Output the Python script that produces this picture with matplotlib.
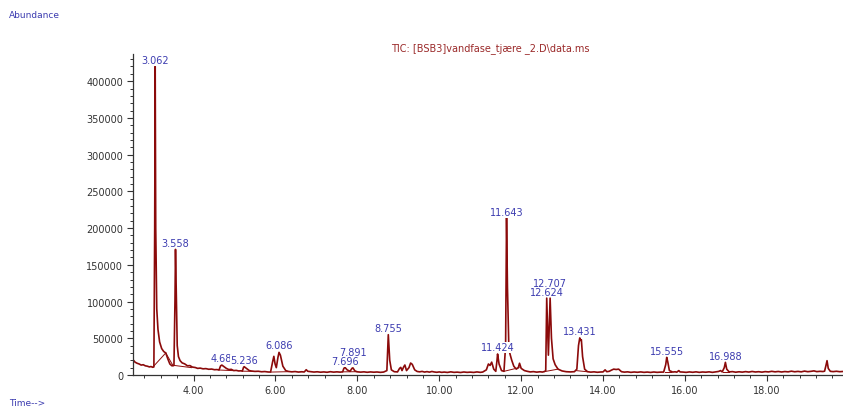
import matplotlib
matplotlib.use("Agg")
import matplotlib.pyplot as plt
from matplotlib.ticker import MultipleLocator, FormatStrFormatter

# ---------------- DATA ----------------
# retention time (min) and abundance of the TIC trace
# (one line of rt matches the same line of abundance)
rt = [2.52, 2.57, 2.62, 2.67, 2.72, 2.77, 2.82, 2.87, 2.92, 2.96, 3.00, 3.03,
      3.05, 3.062, 3.075, 3.10, 3.13, 3.17, 3.22, 3.27, 3.32, 3.37, 3.42, 3.47,
      3.52, 3.545, 3.558, 3.575, 3.60, 3.63, 3.67, 3.72, 3.78, 3.85, 3.91, 3.97,
      4.04, 4.10, 4.16, 4.23, 4.30, 4.37, 4.44, 4.51, 4.57, 4.62, 4.66, 4.69,
      4.74, 4.80, 4.86, 4.92, 4.98, 5.04, 5.10, 5.16, 5.19, 5.22, 5.236, 5.30,
      5.36, 5.42, 5.50, 5.58, 5.66, 5.74, 5.82, 5.88, 5.93, 5.96, 5.99, 6.02,
      6.06, 6.086, 6.12, 6.18, 6.25, 6.32, 6.40, 6.48, 6.56, 6.64, 6.70, 6.73,
      6.75, 6.79, 6.86, 6.94, 7.02, 7.10, 7.18, 7.26, 7.34, 7.42, 7.50, 7.58,
      7.64, 7.67, 7.696, 7.75, 7.82, 7.87, 7.891, 7.94, 8.00, 8.08, 8.16, 8.24,
      8.32, 8.40, 8.48, 8.56, 8.64, 8.72, 8.755, 8.79, 8.83, 8.90, 8.98, 9.03,
      9.06, 9.09, 9.13, 9.16, 9.20, 9.26, 9.30, 9.34, 9.40, 9.46, 9.52, 9.58,
      9.64, 9.70, 9.76, 9.82, 9.88, 9.94, 10.00, 10.06, 10.12, 10.20, 10.28, 10.36,
      10.44, 10.52, 10.60, 10.68, 10.76, 10.84, 10.92, 11.00, 11.06, 11.15, 11.20, 11.24,
      11.28, 11.33, 11.38, 11.41, 11.424, 11.46, 11.52, 11.58, 11.62, 11.643, 11.665, 11.70,
      11.73, 11.77, 11.82, 11.88, 11.93, 11.96, 12.00, 12.08, 12.15, 12.22, 12.30, 12.38,
      12.46, 12.52, 12.57, 12.60, 12.624, 12.665, 12.707, 12.74, 12.78, 12.83, 12.90, 13.00,
      13.10, 13.20, 13.30, 13.36, 13.40, 13.431, 13.45, 13.47, 13.50, 13.55, 13.62, 13.70,
      13.78, 13.86, 13.94, 14.00, 14.05, 14.09, 14.15, 14.20, 14.26, 14.32, 14.38, 14.45,
      14.52, 14.60, 14.68, 14.76, 14.84, 14.92, 15.00, 15.08, 15.16, 15.24, 15.32, 15.40,
      15.48, 15.53, 15.555, 15.58, 15.62, 15.70, 15.76, 15.80, 15.85, 15.88, 15.95, 16.03,
      16.11, 16.19, 16.27, 16.35, 16.43, 16.51, 16.59, 16.67, 16.75, 16.82, 16.87, 16.91,
      16.96, 16.988, 17.02, 17.08, 17.16, 17.24, 17.32, 17.40, 17.48, 17.56, 17.64, 17.72,
      17.80, 17.88, 17.96, 18.04, 18.12, 18.20, 18.28, 18.36, 18.44, 18.52, 18.60, 18.68,
      18.76, 18.84, 18.92, 19.00, 19.08, 19.15, 19.22, 19.30, 19.37, 19.41, 19.44, 19.47,
      19.50, 19.55, 19.62, 19.70, 19.78, 19.86]
abundance = [20800, 17500, 16000, 15000, 13500, 14000, 12500, 12000, 11000, 11500, 10500, 11000,
             200000, 420000, 200000, 90000, 62000, 45000, 36000, 32000, 30000, 22000, 15000, 12500,
             13000, 100000, 171000, 120000, 40000, 25000, 19500, 16500, 15200, 12500, 12800, 10800,
             10200, 9000, 9400, 8400, 8700, 7800, 8100, 7200, 7400, 6800, 12500, 13500,
             11500, 9000, 7400, 7700, 6000, 6300, 5500, 5700, 5200, 10500, 11300, 8500,
             6000, 5300, 4900, 5100, 4400, 4700, 4100, 4000, 18000, 25400, 15000, 10000,
             24000, 30800, 27000, 12000, 6000, 4800, 4300, 4700, 4000, 4400, 4100, 5800,
             7200, 5000, 4600, 4000, 4400, 3800, 4200, 3700, 4500, 3900, 4300, 3900,
             4300, 9000, 10400, 7000, 5000, 9200, 9700, 5500, 4300, 3900, 4300, 3700,
             4200, 3800, 4100, 3600, 4000, 6000, 54900, 20000, 7000, 4500, 4200, 9000,
             10400, 6000, 11000, 13600, 6000, 10000, 16300, 14500, 7000, 4800, 4300, 4900,
             4000, 4600, 3900, 4800, 4100, 3700, 4200, 3600, 4000, 3500, 4300, 3600,
             3900, 3400, 4100, 3600, 3900, 3500, 4200, 3600, 4000, 7000, 15000, 13000,
             17500, 8000, 5000, 20000, 28600, 15000, 6000, 5000, 40000, 214000, 120000, 35000,
             28000, 20000, 12000, 8000, 10000, 16000, 9000, 6000, 5000, 4200, 4600, 3900,
             4400, 4000, 4800, 6000, 104700, 27000, 104700, 50000, 22000, 14000, 8000, 5500,
             4500, 4200, 4500, 8000, 40000, 50500, 47000, 48000, 25000, 8000, 4500, 3900,
             4300, 3700, 4100, 4200, 7000, 4500, 5000, 6500, 8000, 7500, 8000, 4500,
             3900, 4300, 3600, 4100, 3700, 4200, 3600, 4000, 3500, 4100, 3600, 3900,
             4000, 14000, 24000, 18000, 6000, 4000, 4400, 3800, 6000, 4200, 4000, 3600,
             4200, 3700, 4300, 3600, 4100, 3800, 4300, 3600, 4200, 4800, 6000, 4200,
             10000, 17200, 8000, 4200, 4600, 3800, 4400, 3900, 4600, 4000, 4800, 4100,
             4500, 3900, 4600, 4200, 5000, 4300, 4800, 4100, 4700, 4300, 5200, 4400,
             4900, 4300, 5300, 4500, 5000, 5600, 4600, 5000, 4700, 5200, 12000, 19500,
             9000, 5000, 4600, 5100, 4500, 4800]

# labelled peaks: retention time, label centre height (drawn in this order)
peak_rt = [3.062, 3.558, 4.68, 5.236, 6.086, 7.696, 7.891, 8.755, 11.424, 11.643,
           12.624, 12.707, 13.431, 15.555, 16.988]
peak_lbl = ["3.062", "3.558", "4.68", "5.236", "6.086", "7.696", "7.891", "8.755",
            "11.424", "11.643", "12.624", "12.707", "13.431", "15.555", "16.988"]
peak_y = [428600, 179600, 23100, 20400, 40800, 18600, 31700, 63900, 37700, 221300,
          113300, 125200, 60300, 33100, 26300]

# integration baselines (start rt, start y, end rt, end y)
base_t0 = [3.00, 3.32, 3.53, 4.62, 5.19, 5.89, 7.64, 11.58, 12.56, 13.34, 15.51, 16.94]
base_y0 = [10500, 30000, 13000, 6800, 5200, 4000, 4300, 5000, 4500, 6000, 4000, 4200]
base_t1 = [3.32, 3.50, 3.95, 4.95, 5.45, 6.30, 7.98, 11.95, 12.90, 13.60, 15.66, 17.07]
base_y1 = [30000, 12500, 10000, 6000, 5000, 4500, 4500, 10000, 8000, 4500, 4000, 4200]

trace_col = "#8b0a0a"
label_col = "#3c3cb0"

# ---------------- FIGURE ----------------
fig = plt.figure(figsize=(8.43, 4.10), dpi=100)
ax = fig.add_axes([133 / 843, 34 / 410, 710 / 843, 321 / 410])

for i in range(len(base_t0)):
    ax.plot([base_t0[i], base_t1[i]], [base_y0[i], base_y1[i]], color=trace_col, lw=0.7)
ax.plot(rt, abundance, color=trace_col, lw=1.2)

# white box behind each label, so a later label hides part of an earlier one
for t, y, s in zip(peak_rt, peak_y, peak_lbl):
    ax.text(t, y, s, ha="center", va="center", fontsize=7, color=label_col,
            bbox=dict(facecolor="white", edgecolor="none", pad=0.3))

ax.set_xlim(2.52, 19.86)
ax.set_ylim(0, 437000)
ax.xaxis.set_major_locator(MultipleLocator(2))
ax.xaxis.set_minor_locator(MultipleLocator(0.4))
ax.xaxis.set_major_formatter(FormatStrFormatter("%.2f"))
ax.yaxis.set_major_locator(MultipleLocator(50000))
ax.yaxis.set_minor_locator(MultipleLocator(10000))
ax.yaxis.set_major_formatter(FormatStrFormatter("%d"))

ax.spines["top"].set_visible(False)
ax.spines["right"].set_visible(False)
for s in ["left", "bottom"]:
    ax.spines[s].set_color("#333333")
    ax.spines[s].set_linewidth(0.9)
ax.tick_params(which="major", length=4, width=0.8, color="#333333",
               labelsize=7, labelcolor="#333333", pad=3)
ax.tick_params(which="minor", length=2.5, width=0.7, color="#333333")

fig.text(490 / 843, 1 - 49 / 410, "TIC: [BSB3]vandfase_tjære _2.D\\data.ms",
         ha="center", va="center", fontsize=7, color="#9b2a2a")
fig.text(9 / 843, 1 - 16 / 410, "Abundance", ha="left", va="center",
         fontsize=6.5, color=label_col)
fig.text(9 / 843, 1 - 404 / 410, "Time-->", ha="left", va="center",
         fontsize=6.5, color=label_col)

fig.savefig("out.png", dpi=100)
